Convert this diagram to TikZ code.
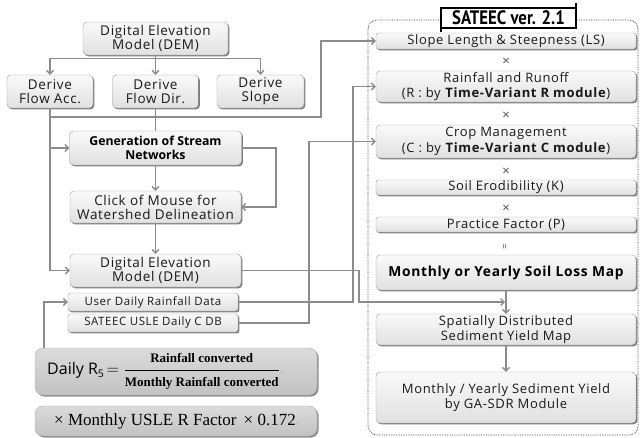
\documentclass[tikz,border=0pt]{standalone}
\usepackage{fontspec}
\setmainfont{Liberation Serif}
\newfontfamily\bx{Open Sans}[LetterSpace=5]
\newfontfamily\gx{Open Sans}
\newfontfamily\tx{PT Sans}
\newfontfamily\sym{DejaVu Sans}
\usetikzlibrary{shadows,arrows.meta}
\newcommand{\pmark}{{\sym\fontsize{6}{6}\selectfont\color{gray!55}↵}}
\tikzset{
  box/.style={draw=gray!75, top color=gray!4, bottom color=gray!24, rounded corners=4pt,
    drop shadow={shadow xshift=1.4pt, shadow yshift=-1.4pt, fill=black!60, opacity=0.85},
    align=center, inner sep=0pt, text=black!90, font=\bx\fontsize{13.5}{13.8}\selectfont},
  rbox/.style={box, font=\bx\fontsize{13}{15.5}\selectfont},
  thinbox/.style={rbox, rounded corners=2.5pt},
  fbox/.style={draw=gray!65, top color=gray!28, bottom color=gray!48, rounded corners=8pt,
    drop shadow={shadow xshift=1.6pt, shadow yshift=-1.6pt, fill=black!55, opacity=0.8},
    inner sep=0pt, text=black!90},
  conn/.style={draw=gray!90, line width=1.3pt},
  arr/.style={conn, -{Straight Barb[length=3.5pt,width=7pt]}},
  op/.style={inner sep=0pt, text=black!70, font=\gx\fontsize{13}{13}\selectfont},
}
\begin{document}
\begin{tikzpicture}[x=1pt,y=-1pt]
\useasboundingbox (0,0) rectangle (640,437);

% right frame
\draw[black!80, densely dotted, line width=0.7pt, rounded corners=9pt] (368,20) rectangle (638,435);

% left column
\node[box, minimum width=145pt, minimum height=33pt] (dem) at (155.5,38.5) {Digital Elevation\\Model (DEM)};
\node[box, minimum width=86pt, minimum height=33pt] (acc) at (50,91.5) {Derive\\Flow Acc.};
\node[box, minimum width=86pt, minimum height=33pt] (dir) at (155.5,91.5) {Derive\\Flow Dir.};
\node[box, minimum width=87pt, minimum height=33pt] (slope) at (260.5,91.5) {Derive\\Slope};
\node[box, minimum width=172pt, minimum height=34pt, font=\gx\bfseries\fontsize{12.3}{14}\selectfont, text=black] (gen) at (155.5,148) {Generation of Stream\\Networks};
\node[box, minimum width=171pt, minimum height=32pt] (click) at (155.5,207) {Click of Mouse for\\Watershed Delineation};
\node[box, minimum width=171pt, minimum height=33pt] (dem2) at (155.5,270.5) {Digital Elevation\\Model (DEM)};
\node[box, rounded corners=2.5pt, minimum width=170pt, minimum height=18pt, font=\bx\fontsize{11.5}{12}\selectfont] (rain) at (153,302) {User Daily Rainfall Data};
\node[box, rounded corners=2.5pt, minimum width=170pt, minimum height=18pt, font=\bx\fontsize{11.5}{12}\selectfont] (cdb) at (153,323) {SATEEC USLE Daily C DB};

\node[fbox, minimum width=282pt, minimum height=47pt] (rfac) at (176,371.5) {};
\node[anchor=west, inner sep=0pt] (rtxt) at (47,371.5) {{\gx\fontsize{16}{18}\selectfont Daily R\raisebox{-2.5pt}{\fontsize{10.5}{10}\selectfont 5}}\;\fontsize{16}{18}\selectfont$=$\;$\displaystyle\frac{\mbox{\bfseries\fontsize{13}{13}\selectfont Rainfall converted}}{\mbox{\bfseries\fontsize{13}{13}\selectfont Monthly Rainfall converted}}$\pmark};
\node[fbox, minimum width=282pt, minimum height=30pt] (mfac) at (176,421) {};
\node[anchor=west, inner sep=0pt] (mtxt) at (54,421) {\fontsize{17}{18}\selectfont × Monthly USLE R Factor \,× 0.172\pmark};

% right column
\node[thinbox, minimum width=260pt, minimum height=16pt] (ls) at (506,41) {Slope Length \& Steepness (LS)};
\node[op] (t1) at (506,62) {×};
\node[rbox, minimum width=260pt, minimum height=31pt] (rr) at (506,86.5) {Rainfall and Runoff\\(R : by \textbf{Time-Variant R module})};
\node[op] (t2) at (506,116) {×};
\node[rbox, minimum width=260pt, minimum height=33pt] (cm) at (506,141.5) {Crop Management\\(C : by \textbf{Time-Variant C module})};
\node[op] (t3) at (506,172) {×};
\node[thinbox, minimum width=260pt, minimum height=15pt] (k) at (506,187.5) {Soil Erodibility (K)};
\node[op] (t4) at (506,209) {×};
\node[thinbox, minimum width=260pt, minimum height=15pt] (p) at (506,224.5) {Practice Factor (P)};
\node[op, rotate=90, font=\gx\fontsize{10}{10}\selectfont] (eq) at (506,247) {=};
\node[rbox, minimum width=260pt, minimum height=35pt, font=\bx\bfseries\fontsize{13.8}{14}\selectfont, text=black] (sl) at (506,272.5) {Monthly or Yearly Soil Loss Map};
\node[rbox, minimum width=260pt, minimum height=31pt] (sd) at (506,329.5) {Spatially Distributed\\Sediment Yield Map};
\node[rbox, minimum width=260pt, minimum height=51pt] (sy) at (506,397.5) {Monthly / Yearly Sediment Yield\\by GA-SDR Module};

% title scroll
\node[draw=black, fill=white, line width=1.1pt, inner xsep=4pt, inner ysep=0pt, minimum width=134pt, minimum height=20pt, font=\tx\bfseries\fontsize{19.5}{20}\selectfont] (title) at (508.5,18) {\scalebox{0.86}[1]{SATEEC ver. 2.1}};
\draw[black, line width=2.4pt] (title.north west) -- ([yshift=-3pt]title.south west);
\draw[black, line width=2.4pt] ([yshift=4pt]title.north east) -- (title.south east);

% coordinates for routing
\coordinate (h1) at (321,117);
\coordinate (rv) at (353,0);
\coordinate (cv) at (309,0);
\coordinate (dv) at (359,302);
\coordinate (jn) at (506,302);
\coordinate (fv) at (44,0);
\coordinate (gv) at (276,0);

% connectors
\draw[arr] (dem.south) -- ++(0,3.5) -| (acc.north);
\draw[arr] (dem.south) -- ++(0,3.5) -| (slope.north);
\draw[arr] (dem.south) -- (dir.north);
\draw[arr] (acc.south) |- (dem2.west);
\draw[arr] (acc.south |- gen.west) -- (gen.west);
\draw[arr] (acc.south |- h1) -- (h1) |- (ls.west);
\draw[conn] (dir.south) -- (gen.north);
\draw[arr] (gen.east) -| (gv |- gen.east) |- (click.east);
\draw[arr] (gen.south) -- (click.north);
\draw[arr] (click.south) -- (dem2.north);
\draw[arr] (dem2.east) -| (dv) -- ([xshift=-1pt]jn);
\draw[arr] (rain.east) -- (rain.east -| rv) |- (rr.west);
\draw[arr] (cdb.east) -- (cdb.east -| cv) |- (cm.west);
\draw[arr] (rfac.north -| fv) |- (rain.west);
\draw[arr] (sl.south) -- (sd.north);
\draw[arr] (sd.south) -- (sy.north);
\end{tikzpicture}
\end{document}
